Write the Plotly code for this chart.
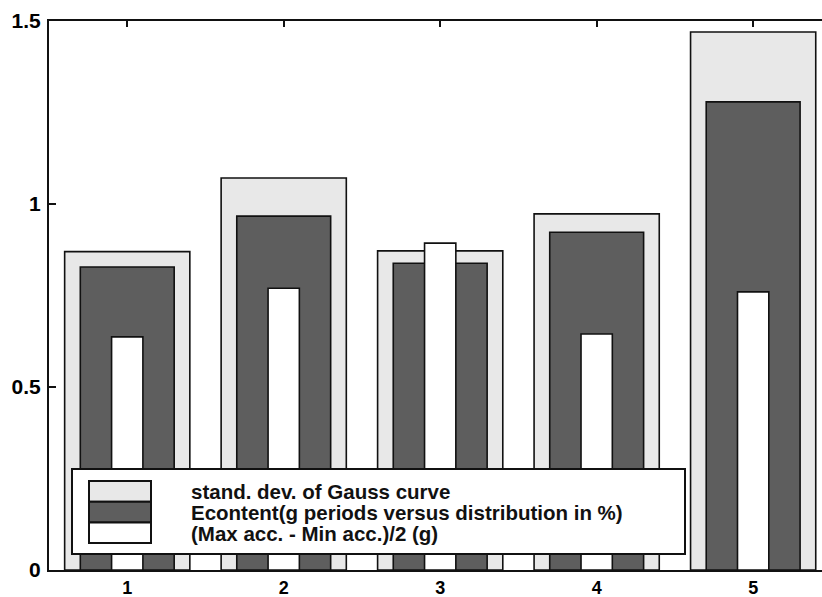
import plotly.graph_objects as go

categories = [1, 2, 3, 4, 5]
std_dev = [0.870, 1.071, 0.872, 0.973, 1.470]
econtent = [0.828, 0.967, 0.838, 0.923, 1.279]
half_range = [0.637, 0.770, 0.893, 0.645, 0.760]
legend_labels = [
    "stand. dev. of Gauss curve",
    "Econtent(g periods versus distribution in %)",
    "(Max acc. - Min acc.)/2 (g)",
]
y_ticks = [0, 0.5, 1, 1.5]
y_ticktext = ["0", "0.5", "1", "1.5"]

colors = ["#e8e8e8", "#5e5e5e", "#ffffff"]
widths = [0.8, 0.6, 0.2]
series = [std_dev, econtent, half_range]

W, H = 822, 597
ML, MR, MT, MB = 49, 0, 21, 27
PW, PH = W - ML - MR, H - MT - MB

def px_x(p):
    return (p - ML) / PW

def px_y(p):
    return (H - MB - p) / PH

fig = go.Figure()
for vals, col, w, name in zip(series, colors, widths, legend_labels):
    fig.add_trace(go.Bar(
        x=categories, y=vals, width=w, name=name,
        marker=dict(color=col, line=dict(color="#111111", width=1.6)),
        showlegend=False,
    ))

# legend box drawn manually
shapes = [dict(type="rect", xref="paper", yref="paper",
               x0=px_x(72), x1=px_x(685), y0=px_y(554), y1=px_y(469),
               fillcolor="white", line=dict(color="#111111", width=2), layer="above")]
annotations = []
patch_top = 481
patch_h = 20.7
for i, (col, lab) in enumerate(zip(colors, legend_labels)):
    t = patch_top + i * patch_h
    shapes.append(dict(type="rect", xref="paper", yref="paper",
                       x0=px_x(89), x1=px_x(151), y0=px_y(t + patch_h), y1=px_y(t),
                       fillcolor=col, line=dict(color="#111111", width=2), layer="above"))
    annotations.append(dict(xref="paper", yref="paper", x=px_x(189), y=px_y(t + patch_h / 2 + 0.5),
                            text=lab, showarrow=False, xanchor="left", yanchor="middle",
                            font=dict(family="Liberation Sans", size=20.5, color="#111111", weight="bold")))

fig.update_layout(
    width=W, height=H,
    margin=dict(l=ML, r=MR, t=MT, b=MB, pad=0),
    barmode="overlay",
    plot_bgcolor="white", paper_bgcolor="white",
    shapes=shapes, annotations=annotations,
    showlegend=False,
)
fig.update_xaxes(
    range=[0.5, 5.44], tickmode="array", tickvals=categories,
    ticktext=[str(c) for c in categories],
    showgrid=False, zeroline=False,
    showline=True, linecolor="#111111", linewidth=2, mirror="ticks",
    ticks="inside", ticklen=6, tickwidth=2, tickcolor="#111111",
    tickfont=dict(family="Liberation Sans", size=18, color="black", weight="bold"),
    layer="below traces",
)
fig.update_yaxes(
    range=[0, 1.5], tickmode="array", tickvals=y_ticks, ticktext=y_ticktext,
    showgrid=False, zeroline=False,
    showline=True, linecolor="#111111", linewidth=2,
    ticks="inside", ticklen=7, tickwidth=2, tickcolor="#111111",
    ticklabelstandoff=2,
    tickfont=dict(family="Liberation Sans", size=21, color="black", weight="bold"),
)

fig.write_html("out.html")
